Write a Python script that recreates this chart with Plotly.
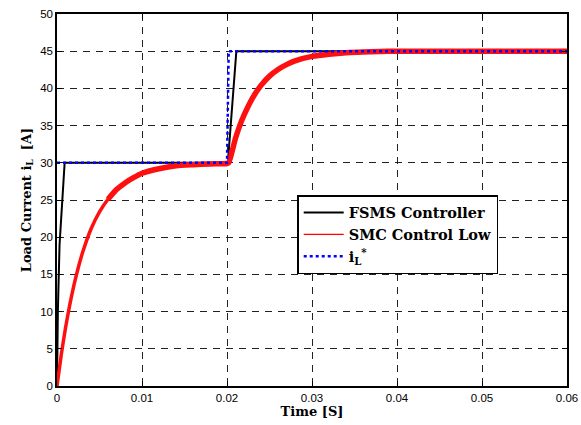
import plotly.graph_objects as go

# FSMS controller response (black)
fsms_t = [0, 0.0001, 0.0003, 0.0006, 0.0009, 0.0200, 0.0201, 0.0211, 0.0600]
fsms_i = [0, 10.0, 19.0, 25.0, 30.0, 30.0, 30.0, 45.0, 45.0]

# SMC control law response (red) - initial rise (thin band)
smc_rise_t = [0, 0.0005, 0.001, 0.0015, 0.002, 0.0025, 0.003, 0.004, 0.005, 0.006, 0.007]
smc_rise_i = [0, 4.2, 7.8, 10.9, 13.6, 15.9, 17.9, 21.1, 23.4, 25.1, 26.4]

# SMC control law response (red) - remaining part (thicker noisy band)
smc_t = [0.006, 0.007, 0.008, 0.009, 0.010, 0.012, 0.014, 0.016, 0.018, 0.020, 0.0202,
         0.021, 0.0215, 0.022, 0.023, 0.024, 0.025, 0.026, 0.027, 0.028, 0.030,
         0.032, 0.034, 0.036, 0.038, 0.040, 0.045, 0.050, 0.055, 0.060]
smc_i = [25.1, 26.4, 27.3, 28.0, 28.6, 29.2, 29.6, 29.75, 29.85, 29.9, 30.0,
         33.3, 35.0, 36.4, 38.7, 40.4, 41.65, 42.55, 43.2, 43.7, 44.3,
         44.6, 44.8, 44.9, 44.95, 45.0, 45.0, 45.0, 45.0, 45.0]

# Reference current i_L* (blue dotted)
ref_t = [0, 0.0200, 0.0202, 0.0600]
ref_i = [30, 30, 45, 45]

x_ticks = [0, 0.01, 0.02, 0.03, 0.04, 0.05, 0.06]
x_labels = ["0", "0.01", "0.02", "0.03", "0.04", "0.05", "0.06"]
y_ticks = [0, 5, 10, 15, 20, 25, 30, 35, 40, 45, 50]

fig = go.Figure()
fig.add_trace(go.Scatter(x=fsms_t, y=fsms_i, mode="lines", name="FSMS Controller",
                         line=dict(color="black", width=2), legendrank=1))
fig.add_trace(go.Scatter(x=smc_rise_t, y=smc_rise_i, mode="lines", showlegend=False,
                         line=dict(color="#ff1010", width=3.5, shape="spline", smoothing=0.6)))
fig.add_trace(go.Scatter(x=smc_t, y=smc_i, mode="lines", showlegend=False,
                         line=dict(color="#ff1010", width=5.5, shape="spline", smoothing=0.6)))
# legend entry for SMC (thin line, as in the reference legend)
fig.add_trace(go.Scatter(x=[None], y=[None], mode="lines", name="SMC Control Low",
                         line=dict(color="#ff0000", width=1.2), legendrank=2))
fig.add_trace(go.Scatter(x=ref_t, y=ref_i, mode="lines", name="i<sub>L</sub><sup>*</sup>",
                         line=dict(color="#0000ff", width=2.5, dash="dot"), legendrank=3))

serif = "DejaVu Serif"
axis_common = dict(
    showline=True, linecolor="black", linewidth=1.5, mirror="allticks",
    ticks="inside", ticklen=5, tickcolor="black",
    showgrid=True, gridcolor="#222222", gridwidth=1, griddash="7px,6px",
    zeroline=False, automargin=False,
    tickfont=dict(family="Liberation Sans", size=11.5, color="black"),
)

fig.update_xaxes(range=[0, 0.06], tickvals=x_ticks, ticktext=x_labels,
                 title=dict(text="<b>Time [S]</b>", font=dict(family=serif, size=13, color="black"), standoff=4),
                 **axis_common)
fig.update_yaxes(range=[0, 50], tickvals=y_ticks,
                 title=dict(text="<b>Load Current i<sub>L</sub>  [A]</b>", font=dict(family=serif, size=13, color="black"), standoff=6),
                 **axis_common)

fig.update_layout(
    width=581, height=425,
    margin=dict(l=57, r=14, t=14, b=39),
    paper_bgcolor="white", plot_bgcolor="white",
    showlegend=True,
    legend=dict(x=0.471, y=0.513, xanchor="left", yanchor="top",
                bgcolor="white", bordercolor="black", borderwidth=1.5,
                font=dict(family=serif, size=14.5, color="black", weight="bold"),
                itemwidth=40, tracegroupgap=0),
)

fig.write_html("out.html")
